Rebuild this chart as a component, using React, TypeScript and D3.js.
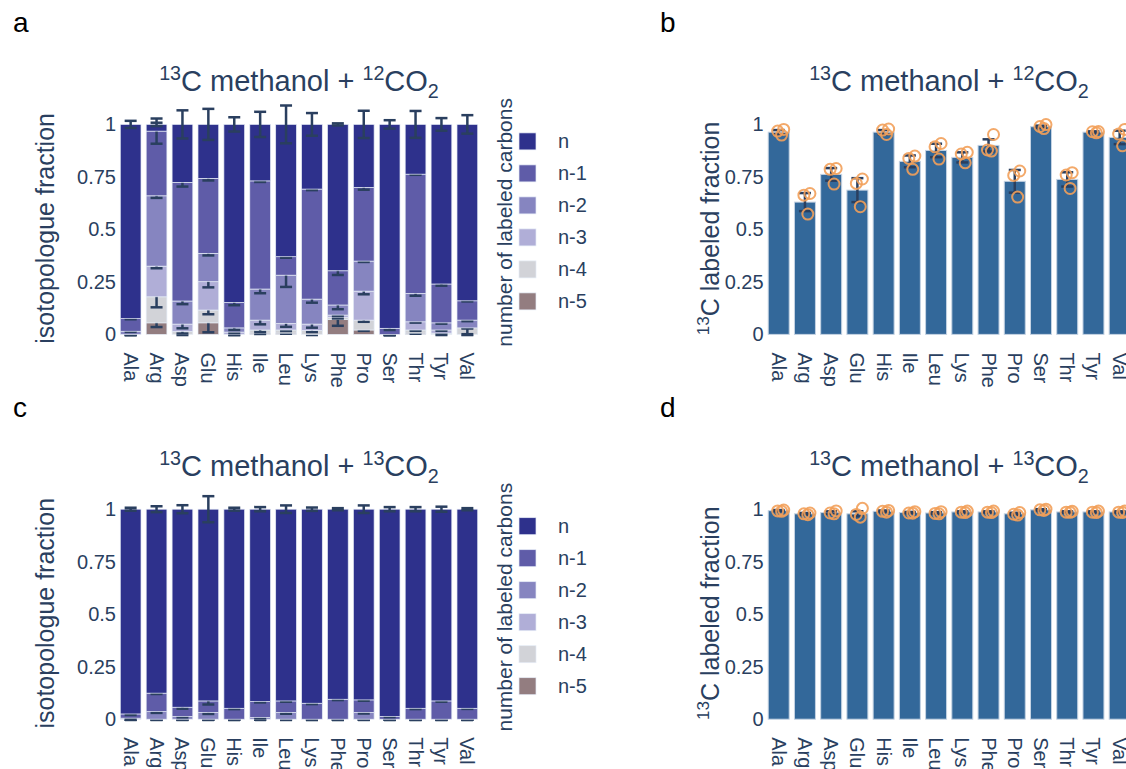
import React, { useEffect, useRef } from "react";
import * as d3 from "d3";

const AMINO_ACIDS = ["Ala", "Arg", "Asp", "Glu", "His", "Ile", "Leu", "Lys", "Phe", "Pro", "Ser", "Thr", "Tyr", "Val"];
const ISOTOPOLOGUES = ["n", "n-1", "n-2", "n-3", "n-4", "n-5"];
const ISO_COLORS = ["#2e318c", "#5f5ca8", "#8685c0", "#b0aed7", "#d2d3d8", "#937d80"];
const Y_TICKS = [0, 0.25, 0.5, 0.75, 1];
const Y_TICK_LABELS = ["0", "0.25", "0.5", "0.75", "1"];

// panel a: 13C methanol + 12CO2, isotopologue fractions
const A_N = [0.925, 0.032, 0.276, 0.257, 0.848, 0.269, 0.63, 0.308, 0.697, 0.3, 0.971, 0.237, 0.76, 0.84];
const A_N1 = [0.06, 0.308, 0.565, 0.357, 0.121, 0.515, 0.088, 0.524, 0.163, 0.351, 0.029, 0.568, 0.185, 0.092];
const A_N2 = [0.015, 0.335, 0.11, 0.135, 0.02, 0.148, 0.23, 0.119, 0.048, 0.143, 0, 0.135, 0.034, 0.037];
const A_N3 = [0, 0.146, 0.035, 0.135, 0.011, 0.047, 0.031, 0.03, 0.011, 0.138, 0, 0.039, 0.015, 0];
const A_N4 = [0, 0.124, 0.014, 0.061, 0, 0.015, 0.015, 0.019, 0.01, 0.047, 0, 0.015, 0.006, 0.031];
const A_N5 = [0, 0.055, 0, 0.055, 0, 0.006, 0.006, 0, 0.071, 0.021, 0, 0.006, 0, 0];
const A_ERR_N = [0.017, 0.008, 0.067, 0.074, 0.034, 0.06, 0.09, 0.054, 0.005, 0.065, 0.02, 0.064, 0.03, 0.044];
const A_ERR_N1 = [0.003, 0.06, 0.02, 0.01, 0.013, 0.005, 0.005, 0.005, 0.02, 0.011, 0.008, 0.003, 0.008, 0.003];
const A_ERR_N2 = [0.003, 0.01, 0.015, 0.01, 0.01, 0.02, 0.056, 0.017, 0.02, 0.004, 0.003, 0.011, 0.004, 0.005];
const A_ERR_N3 = [0.003, 0.01, 0.02, 0.027, 0.005, 0.02, 0.016, 0.017, 0.005, 0.015, 0.003, 0.004, 0.004, 0.003];
const A_ERR_N4 = [0.003, 0.05, 0.01, 0.02, 0.003, 0.01, 0.005, 0.008, 0.005, 0.008, 0.003, 0.004, 0.004, 0.03];
const A_ERR_N5 = [0.003, 0.02, 0.003, 0.045, 0.003, 0.004, 0.003, 0.003, 0.03, 0.004, 0.003, 0.003, 0.003, 0.003];

// panel b: 13C labeled fraction, 13C methanol + 12CO2
const B_MEAN = [0.963, 0.63, 0.762, 0.687, 0.963, 0.824, 0.876, 0.843, 0.9, 0.729, 0.989, 0.738, 0.963, 0.938];
const B_ERR = [0.01, 0.043, 0.03, 0.057, 0.01, 0.028, 0.032, 0.024, 0.029, 0.054, 0.005, 0.034, 0.004, 0.032];
const B_REP1 = [0.968, 0.663, 0.786, 0.719, 0.973, 0.838, 0.893, 0.859, 0.878, 0.757, 0.99, 0.759, 0.965, 0.954];
const B_REP2 = [0.976, 0.671, 0.79, 0.74, 0.978, 0.849, 0.909, 0.867, 0.952, 0.778, 0.999, 0.77, 0.966, 0.976];
const B_REP3 = [0.949, 0.573, 0.716, 0.608, 0.952, 0.786, 0.835, 0.817, 0.873, 0.654, 0.98, 0.695, 0.96, 0.898];

// panel c: 13C methanol + 13CO2, isotopologue fractions
const C_N = [0.975, 0.876, 0.943, 0.913, 0.948, 0.916, 0.913, 0.924, 0.905, 0.908, 0.987, 0.948, 0.913, 0.948];
const C_N1 = [0.02, 0.088, 0.044, 0.055, 0.052, 0.076, 0.055, 0.076, 0.095, 0.06, 0.013, 0.052, 0.087, 0.052];
const C_N2 = [0.005, 0.036, 0.013, 0.032, 0, 0.008, 0.032, 0, 0, 0.032, 0, 0, 0, 0];
const C_N3 = [0, 0, 0, 0, 0, 0, 0, 0, 0, 0, 0, 0, 0, 0];
const C_N4 = [0, 0, 0, 0, 0, 0, 0, 0, 0, 0, 0, 0, 0, 0];
const C_N5 = [0, 0, 0, 0, 0, 0, 0, 0, 0, 0, 0, 0, 0, 0];
const C_ERR_N = [0.007, 0.014, 0.019, 0.062, 0.007, 0.01, 0.018, 0.008, 0.005, 0.018, 0.01, 0.01, 0.012, 0.005];
const C_ERR_N1 = [0.005, 0.004, 0.007, 0.017, 0.004, 0.004, 0.004, 0.004, 0.004, 0.004, 0.003, 0.004, 0.004, 0.003];
const C_ERR_N2 = [0.004, 0.006, 0.004, 0.007, 0.003, 0.004, 0.006, 0.003, 0.003, 0.005, 0.003, 0.003, 0.003, 0.003];
const C_ERR_REST = [0.003, 0.003, 0.003, 0.003, 0.003, 0.003, 0.003, 0.003, 0.003, 0.003, 0.003, 0.003, 0.003, 0.003];

// panel d: 13C labeled fraction, 13C methanol + 13CO2
const D_MEAN = [0.993, 0.978, 0.984, 0.978, 0.99, 0.984, 0.982, 0.987, 0.987, 0.978, 0.997, 0.987, 0.987, 0.987];
const D_ERR = [0.003, 0.004, 0.006, 0.012, 0.004, 0.003, 0.004, 0.003, 0.003, 0.005, 0.003, 0.003, 0.003, 0.003];
const D_REP1 = [0.992, 0.978, 0.982, 0.975, 0.99, 0.982, 0.98, 0.986, 0.986, 0.976, 0.997, 0.986, 0.986, 0.986];
const D_REP2 = [0.996, 0.982, 0.992, 1.004, 0.994, 0.988, 0.988, 0.991, 0.991, 0.984, 1.0, 0.99, 0.991, 0.991];
const D_REP3 = [0.99, 0.974, 0.978, 0.962, 0.986, 0.981, 0.978, 0.984, 0.984, 0.972, 0.994, 0.985, 0.984, 0.984];

const FONT = "'Liberation Sans', Arial, Helvetica, sans-serif";
const INK = "#2a3f5f";
const JITTER = [-0.04, 0.19, 0.11];

type Part = { t: string; s?: "sup" | "sub" };

function richText(sel: any, parts: Part[], fs: number) {
  let shift = 0;
  parts.forEach((p) => {
    const target = p.s === "sup" ? -0.4 * fs : p.s === "sub" ? 0.22 * fs : 0;
    sel.append("tspan")
      .attr("dy", target - shift)
      .attr("font-size", p.s ? fs * 0.68 : fs)
      .text(p.t);
    shift = target;
  });
}

function errorBar(g: any, cx: number, y: any, v: number, e: number) {
  const eb = g.append("g").attr("stroke", INK).attr("stroke-width", 2.5);
  eb.append("line").attr("x1", cx).attr("x2", cx).attr("y1", y(v - e)).attr("y2", y(v + e));
  [v - e, v + e].forEach((c) => {
    eb.append("line").attr("x1", cx - 6).attr("x2", cx + 6).attr("y1", y(c)).attr("y2", y(c));
  });
}

function yAxis(g: any, y: any, xr: number) {
  Y_TICKS.forEach((t, i) => {
    g.append("text").attr("x", xr).attr("y", y(t)).attr("dy", "0.35em")
      .attr("text-anchor", "end").attr("font-size", 20).attr("fill", INK)
      .text(Y_TICK_LABELS[i]);
  });
}

function xAxis(g: any, x: any, top: number) {
  AMINO_ACIDS.forEach((aa) => {
    const cx = x(aa) + x.bandwidth() / 2;
    g.append("text").attr("transform", `translate(${cx},${top}) rotate(90)`)
      .attr("dy", "0.35em").attr("font-size", 20).attr("fill", INK).text(aa);
  });
}

function drawStacked(svg: any, yTop: number, series: number[][], errs: number[][], title: Part[]) {
  const g = svg.append("g");
  const x = d3.scaleBand().domain(AMINO_ACIDS).range([117.7, 480.3]).paddingInner(0.2).paddingOuter(0.1);
  const y = d3.scaleLinear().domain([0, 1]).range([yTop + 210, yTop]);

  const rows = AMINO_ACIDS.map((aa, i) => {
    const r: any = { aa };
    ISOTOPOLOGUES.forEach((k, j) => (r[k] = series[j][i]));
    return r;
  });
  const keys = [...ISOTOPOLOGUES].reverse();
  const layers = d3.stack().keys(keys)(rows);

  layers.forEach((layer: any) => {
    const j = ISOTOPOLOGUES.indexOf(layer.key);
    const lg = g.append("g");
    lg.selectAll("rect").data(layer).enter().append("rect")
      .attr("x", (d: any) => x(d.data.aa))
      .attr("width", x.bandwidth())
      .attr("y", (d: any) => y(d[1]))
      .attr("height", (d: any) => y(d[0]) - y(d[1]))
      .attr("fill", ISO_COLORS[j])
      .attr("stroke", "#e5ecf6").attr("stroke-width", 0.7);
    layer.forEach((d: any, i: number) => {
      errorBar(lg, x(d.data.aa)! + x.bandwidth() / 2, y, d[1], errs[j][i]);
    });
  });

  yAxis(g, y, 116);
  xAxis(g, x, yTop + 228);

  const t = g.append("text").attr("x", 299).attr("y", yTop - 33).attr("text-anchor", "middle").attr("fill", INK);
  richText(t, title, 29);

  g.append("text").attr("transform", `translate(54,${yTop + 104}) rotate(-90)`)
    .attr("text-anchor", "middle").attr("font-size", 25).attr("fill", INK)
    .text("isotopologue fraction");

  // legend
  g.append("text").attr("transform", `translate(512,${yTop + 98}) rotate(-90)`)
    .attr("text-anchor", "middle").attr("font-size", 21).attr("fill", INK)
    .text("number of labeled carbons");
  ISOTOPOLOGUES.forEach((k, j) => {
    const ly = yTop + 8.5 + j * 32;
    g.append("rect").attr("x", 519).attr("y", ly).attr("width", 17).attr("height", 17)
      .attr("fill", ISO_COLORS[j]).attr("stroke", "#e5ecf6").attr("stroke-width", 0.7);
    g.append("text").attr("x", 558).attr("y", ly + 8.5).attr("dy", "0.35em")
      .attr("font-size", 20).attr("fill", INK).text(k);
  });
}

function drawLabeled(svg: any, yTop: number, means: number[], errs: number[], reps: number[][], title: Part[]) {
  const g = svg.append("g");
  const x = d3.scaleBand().domain(AMINO_ACIDS).range([765.6, 1132.8]).paddingInner(0.2).paddingOuter(0.1);
  const y = d3.scaleLinear().domain([0, 1]).range([yTop + 210, yTop]);

  g.selectAll("rect").data(AMINO_ACIDS).enter().append("rect")
    .attr("x", (d: string) => x(d))
    .attr("width", x.bandwidth())
    .attr("y", (d: string, i: number) => y(means[i]))
    .attr("height", (d: string, i: number) => y(0) - y(means[i]))
    .attr("fill", "#33689a").attr("stroke", "#c5d3e3").attr("stroke-width", 1);

  AMINO_ACIDS.forEach((aa, i) => {
    const cx = x(aa)! + x.bandwidth() / 2;
    errorBar(g, cx, y, means[i], errs[i]);
    reps.forEach((rep, k) => {
      g.append("circle").attr("cx", cx + JITTER[k] * x.step()).attr("cy", y(rep[i])).attr("r", 5.5)
        .attr("fill", "none").attr("stroke", "#f2a05a").attr("stroke-opacity", 0.9).attr("stroke-width", 2);
    });
  });

  yAxis(g, y, 763.6);
  xAxis(g, x, yTop + 228);

  const t = g.append("text").attr("x", 949).attr("y", yTop - 33).attr("text-anchor", "middle").attr("fill", INK);
  richText(t, title, 29);

  const at = g.append("text").attr("transform", `translate(719,${yTop + 104}) rotate(-90)`)
    .attr("text-anchor", "middle").attr("fill", INK);
  richText(at, [{ t: "13", s: "sup" }, { t: "C labeled fraction" }], 25);
}

export default function App() {
  const ref = useRef<SVGSVGElement>(null);

  useEffect(() => {
    const svg = d3.select(ref.current);
    svg.selectAll("*").remove();
    svg.attr("font-family", FONT);

    const title12: Part[] = [{ t: "13", s: "sup" }, { t: "C methanol + " }, { t: "12", s: "sup" }, { t: "CO" }, { t: "2", s: "sub" }];
    const title13: Part[] = [{ t: "13", s: "sup" }, { t: "C methanol + " }, { t: "13", s: "sup" }, { t: "CO" }, { t: "2", s: "sub" }];

    drawStacked(svg, 124.4, [A_N, A_N1, A_N2, A_N3, A_N4, A_N5],
      [A_ERR_N, A_ERR_N1, A_ERR_N2, A_ERR_N3, A_ERR_N4, A_ERR_N5], title12);
    drawLabeled(svg, 124.4, B_MEAN, B_ERR, [B_REP1, B_REP2, B_REP3], title12);
    drawStacked(svg, 509.2, [C_N, C_N1, C_N2, C_N3, C_N4, C_N5],
      [C_ERR_N, C_ERR_N1, C_ERR_N2, C_ERR_REST, C_ERR_REST, C_ERR_REST], title13);
    drawLabeled(svg, 509.2, D_MEAN, D_ERR, [D_REP1, D_REP2, D_REP3], title13);

    [["a", 13, 32], ["b", 660, 32], ["c", 13, 417], ["d", 660, 417]].forEach(([l, px, py]) => {
      svg.append("text").attr("x", px).attr("y", py).attr("font-size", 28).attr("fill", "#000").text(l as string);
    });
  }, []);

  return (
    <svg ref={ref} width={1126} height={769}
      style={{ position: "absolute", left: 0, top: 0, background: "#fff" }} />
  );
}
